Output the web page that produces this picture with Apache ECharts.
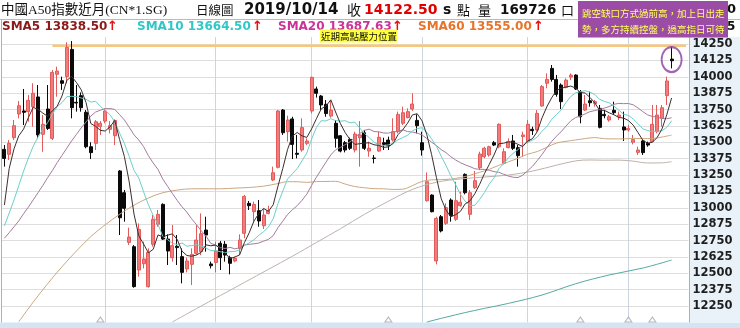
<!DOCTYPE html>
<html><head><meta charset="utf-8">
<script src="https://cdn.jsdelivr.net/npm/echarts@6/dist/echarts.min.js"></script>
<style>html,body{margin:0;padding:0;background:#fff}#c{width:740px;height:328px}</style>
</head><body><div id="c"></div>
<script>
// ---- data ----
const opens = [
13446,13408,13535,13716,13739,13734,13772,13846,13561,13754,
13530,14019,13970,14001,14209,13805,13856,13729,13466,13492,
13619,13662,13599,13550,13281,13115,12736,12703,12525,12573,
12398,12721,12874,13026,12761,12619,12706,12627,12533,12568,
12652,12665,12830,12571,12583,12729,12721,12619,12594,12690,
12805,13034,12970,12978,12863,12957,13212,13309,13746,13581,
13678,13416,13441,13492,13739,13907,13853,13790,13700,13645,
13550,13497,13522,13441,13535,13573,13433,13380,13433,13497,
13517,13517,13581,13645,13688,13754,13667,13497,13054,13097,
12594,12932,12881,13059,12912,13016,13255,12950,13153,13306,
13390,13403,13497,13466,13339,13459,13510,13459,13543,13505,
13599,13594,13777,13950,14064,13980,13937,13919,13998,14013,
13886,13746,13817,13797,13759,13713,13670,13744,13695,13617,
13594,13500,13423,13510,13492,13505,13581,13683,13856,14135];
const closes = [
13377,13492,13627,13779,13729,13820,13874,13556,13637,13606,
14034,14044,13950,14225,13764,13800,13764,13466,13421,13657,
13645,13739,13627,13667,12924,12996,12777,12398,12835,12609,
12660,12912,12950,12761,12670,12711,12696,12507,12594,12644,
12754,12802,12792,12558,12670,12619,12639,12576,12614,12754,
13087,13016,13026,12899,12945,12978,13268,13739,13573,13670,
13484,13408,13612,13510,13996,13874,13785,13719,13746,13530,
13433,13441,13454,13563,13556,13454,13454,13377,13538,13484,
13474,13581,13713,13726,13734,13792,13627,13441,13199,12970,
12919,12823,13001,12940,13054,13042,13115,13115,13207,13410,
13454,13466,13479,13637,13428,13505,13454,13398,13556,13637,
13589,13721,13925,13980,13980,13866,13810,13975,14013,13907,
13695,13792,13802,13810,13614,13703,13695,13726,13708,13594,
13606,13520,13441,13421,13479,13637,13708,13764,13968,14122.5];
const highs = [
13479,13517,13670,13815,13907,13861,13950,13937,13708,13937,
14052,14077,14001,14263,14273,13937,13881,13746,13500,13670,
13662,13759,13662,13675,13288,13136,12848,12716,12881,12741,
12690,12945,12983,13034,12797,12869,12792,12690,12619,12690,
12869,12957,12932,12589,12741,12746,12746,12634,12627,12797,
13098,13052,13047,13059,12996,13016,13314,13746,13754,13703,
13695,13556,13683,13530,14001,13925,13861,13823,13823,13670,
13555,13510,13535,13581,13662,13594,13505,13403,13581,13535,
13543,13683,13734,13772,13759,13874,13713,13581,13270,13102,
12932,12945,13034,13072,13199,13123,13263,13136,13281,13428,
13466,13474,13510,13645,13454,13530,13556,13479,13581,13670,
13619,13746,13937,14026,14090,14014,13950,13988,14026,14019,
13899,13861,13886,13823,13785,13746,13708,13810,13734,13734,
13632,13556,13466,13517,13505,13785,13785,13785,14001,14230];
const lows = [
13314,13365,13517,13683,13632,13657,13619,13530,13428,13594,
13517,13848,13899,13950,13683,13734,13734,13454,13372,13441,
13556,13645,13568,13479,12792,12894,12716,12390,12474,12537,
12390,12703,12856,12754,12563,12589,12563,12423,12507,12410,
12639,12639,12665,12537,12507,12525,12589,12492,12584,12639,
12767,12983,12894,12856,12838,12950,13204,13301,13556,13505,
13372,13377,13428,13479,13721,13841,13746,13695,13688,13459,
13423,13423,13441,13423,13314,13441,13390,13339,13428,13441,
13441,13505,13568,13632,13683,13739,13568,13398,13047,12965,
12568,12812,12869,12894,12899,13008,13102,12907,13143,13288,
13377,13390,13471,13454,13332,13454,13441,13314,13390,13492,
13556,13581,13772,13912,13963,13848,13754,13912,13975,13899,
13645,13739,13772,13772,13606,13683,13657,13708,13670,13510,
13581,13484,13403,13403,13466,13500,13568,13619,13785,14064];

const sma5 = [
13021,13300,13450,13550,13601,13689,13766,13752,13723,13699,
13741,13775,13854,13972,14003,13957,13901,13804,13643,13622,
13591,13586,13618,13667,13520,13391,13198,12952,12786,12723,
12656,12683,12793,12778,12791,12801,12758,12669,12636,12630,
12639,12660,12717,12710,12715,12688,12656,12612,12624,12640,
12734,12809,12899,12956,12995,12973,13023,13166,13301,13446,
13547,13575,13549,13537,13602,13680,13755,13777,13824,13731,
13643,13574,13521,13484,13489,13494,13496,13481,13476,13461,
13465,13491,13558,13596,13646,13709,13718,13664,13559,13406,
13231,13070,12982,12931,12947,12972,13030,13053,13107,13178,
13260,13330,13403,13489,13493,13503,13501,13484,13468,13510,
13527,13580,13686,13770,13839,13894,13912,13922,13929,13914,
13880,13876,13842,13801,13743,13744,13725,13710,13689,13685,
13666,13631,13574,13516,13493,13500,13537,13602,13711,13838.5];
const sma10 = [
12861,12960,13060,13170,13280,13380,13470,13540,13600,13650,
13715,13771,13803,13848,13851,13849,13838,13829,13807,13813,
13774,13743,13711,13655,13571,13491,13392,13285,13227,13122,
13023,12941,12873,12782,12757,12728,12720,12731,12707,12711,
12720,12709,12693,12673,12673,12664,12658,12665,12667,12678,
12711,12733,12756,12790,12818,12853,12916,13033,13129,13220,
13260,13299,13358,13419,13524,13613,13665,13663,13680,13666,
13661,13665,13649,13654,13610,13568,13535,13501,13480,13475,
13480,13494,13519,13536,13554,13587,13605,13611,13577,13526,
13470,13394,13323,13245,13177,13102,13050,13018,13019,13063,
13116,13180,13228,13298,13335,13382,13416,13444,13479,13501,
13515,13540,13585,13619,13675,13711,13746,13804,13850,13877,
13887,13894,13882,13865,13828,13812,13801,13776,13745,13714,
13705,13678,13642,13603,13589,13583,13584,13588,13614,13664.5];
const sma20 = [
12767,12810,12855,12900,12955,13005,13060,13115,13170,13230,
13285,13345,13400,13455,13510,13560,13610,13655,13700,13731,
13745,13757,13757,13751,13711,13670,13615,13557,13517,13467,
13398,13342,13292,13219,13164,13109,13056,13008,12967,12916,
12872,12825,12783,12728,12715,12696,12689,12698,12687,12694,
12716,12721,12725,12731,12745,12759,12787,12849,12898,12949,
12985,13016,13057,13104,13171,13233,13291,13348,13404,13443,
13461,13482,13503,13536,13567,13591,13600,13582,13580,13571,
13570,13579,13584,13595,13582,13578,13570,13556,13529,13501,
13475,13444,13421,13390,13365,13344,13328,13314,13298,13294,
13293,13287,13276,13271,13256,13242,13233,13231,13249,13282,
13316,13360,13407,13459,13505,13546,13581,13624,13664,13689,
13701,13717,13734,13742,13751,13761,13773,13790,13797,13795,
13796,13786,13762,13734,13709,13697,13692,13682,13680,13687.63];
// [day index, value]
const sma60 = [[3,12130],[6,12280],[9,12420],[12,12550],[15,12670],[18,12780],[21,12870],[24,12950],[27,13020],[30,13075],[33,13115],[36,13135],[39,13145],[42,13145],[45,13145],[48,13150],[51,13155],[54,13165],[57,13185],[59,13199],[61,13199],[63,13194],[65,13200],[67,13201],[69,13202],[71,13181],[73,13162],[75,13153],[77,13146],[79,13145],[81,13140],[83,13142],[85,13169],[87,13201],[89,13213],[91,13215],[93,13219],[95,13231],[97,13248],[99,13271],[101,13294],[103,13324],[105,13351],[107,13378],[109,13409],[111,13429],[113,13462],[115,13494],[117,13507],[119,13518],[121,13528],[123,13536],[125,13527],[127,13526],[129,13526],[131,13530],[133,13528],[135,13529],[137,13540],[139,13555]];
const sma120 = [[35,12128],[40,12230],[45,12330],[50,12430],[55,12530],[60,12630],[65,12735],[70,12840],[75,12950],[80,13050],[85,13140],[90,13195],[95,13220],[100,13235],[105,13250],[110,13280],[115,13325],[119,13358],[122,13365],[125,13363],[128,13364],[131,13356],[134,13342],[137,13343],[139,13352]];
const sma240 = [[88,12128],[92,12165],[96,12200],[100,12232],[105,12270],[112,12334],[119,12420],[126,12487],[133,12540],[139,12601]];

const resistanceLevel = 14237;
const resistanceFrom = 10;
const eventDays = [20, 80, 120, 130, 135];
const tickLabels = [12250,12375,12500,12625,12750,12875,13000,13125,13250,13375,13500,13625,13750,13875,14000,14125,14250];

const headerTitle = '中國A50指數近月(CN*1.SG)';
const headerDate = '2019/10/14';
const lastClose = '14122.50';
const lastVolume = '169726';
const smaLabels = [['SMA5','13838.50'],['SMA10','13664.50'],['SMA20','13687.63'],['SMA60','13555.00']];
const noteLines = ['跳空缺口方式過前高，加上日出走','勢，多方持續控盤，過高指日可待'];
const resistanceNote = '近期高點壓力位置';

// ---- trading-day categories (weekdays 2019-04-02 .. 2019-10-14) + blank room ----
const categories = [];
(function(){
  const d = new Date(Date.UTC(2019,3,2));
  while (categories.length < opens.length) {
    const wd = d.getUTCDay();
    if (wd !== 0 && wd !== 6) {
      categories.push(d.getUTCFullYear()+'-'+String(d.getUTCMonth()+1).padStart(2,'0')+'-'+String(d.getUTCDate()).padStart(2,'0'));
    }
    d.setUTCDate(d.getUTCDate()+1);
  }
  for (let k=0;k<3;k++) categories.push('pad'+k);
})();
const monthStarts = [];
for (let i=1;i<opens.length;i++) if (categories[i].slice(5,7)!==categories[i-1].slice(5,7)) monthStarts.push(i);

const candles = opens.map((o,i)=>[o, closes[i], lows[i], highs[i]]);
const last = opens.length-1;

const chart = echarts.init(document.getElementById('c'), null, {renderer:'canvas'});

const T = (x,y,text,font,fill,extra) => Object.assign({type:'text', x, y, silent:true, style:{text, font, fill, textVerticalAlign:'middle', verticalAlign:'middle'}}, extra||{});
const cjk = "'Noto Sans CJK TC'";
const serif = "'Liberation Serif', 'Noto Sans CJK TC'";
const bold = "'DejaVu Sans'";

const smaColors = ['#8B1A1A','#33C6C6','#CC3399','#E8742A'];
const smaX = [2,137,278,418];
const arrowX = [107,252,392,533];

const graphics = [
  {type:'rect', shape:{x:0,y:322.4,width:740,height:6}, style:{fill:'#D4E4F3'}, z:-10, silent:true},
  {type:'rect', shape:{x:690,y:37,width:50,height:286}, style:{fill:'#E9F1F9'}, z:-10, silent:true},
  {type:'line', shape:{x1:0,y1:19.5,x2:740,y2:19.5}, style:{stroke:'#CDAAD8', lineWidth:1}, silent:true},
  {type:'line', shape:{x1:1.5,y1:19.5,x2:1.5,y2:322.4}, style:{stroke:'#C99BD2', lineWidth:1}, silent:true},
  {type:'line', shape:{x1:689.5,y1:19.5,x2:689.5,y2:322.4}, style:{stroke:'#C99BD2', lineWidth:1}, silent:true},
  T(1,10,headerTitle,"13.5px "+serif,'#111'),
  T(196,10,'日線圖',"12.5px "+cjk,'#111'),
  T(244,10,headerDate,"bold 15px "+bold,'#111'),
  T(347,10,'收',"14px "+cjk,'#111'),
  T(364,10,lastClose,"bold 14px "+bold,'#E00000'),
  T(443,10,'s',"bold 14px "+bold,'#111'),
  T(457,10,'點',"13px "+cjk,'#111'),
  T(478,10,'量',"13px "+cjk,'#111'),
  T(500,10,lastVolume,"bold 13.5px "+bold,'#111'),
  T(561,10,'口',"13px "+cjk,'#111'),
  T(727,10,'0',"bold 13px "+bold,'#111'),
  T(727,27,'5',"bold 12px "+bold,'#111')
];
smaLabels.forEach((s,k)=>{
  graphics.push(T(smaX[k],27,s[0]+' '+s[1],"bold 12px "+bold,smaColors[k],{z:1}));
  graphics.push(T(arrowX[k],26.5,'↑',"bold 13px "+bold,'#E81010',{z:1}));
});
graphics.push({type:'rect', shape:{x:320,y:29.5,width:77,height:13}, style:{fill:'#FFFF3C'}, z:5, silent:true});
graphics.push(T(321,36.2,resistanceNote,"9.5px "+cjk,'#111',{z:6}));
graphics.push({type:'rect', shape:{x:578,y:1,width:150,height:36.5}, style:{fill:'#9B4DA6'}, z:5, silent:true});
graphics.push(T(582,13,noteLines[0],"9.5px "+cjk,'#FFFF5A',{z:6}));
graphics.push(T(582,29,noteLines[1],"9.5px "+cjk,'#FFFF5A',{z:6}));

const lineS = (name, data, color, smooth) => ({
  name, type:'line', data, symbol:'none', showSymbol:false, connectNulls:true,
  smooth: smooth ? 0.35 : false, silent:true, z:3,
  lineStyle:{color, width:1}, emphasis:{disabled:true}
});

chart.setOption({
  animation:false,
  backgroundColor:'#ffffff',
  grid:{left:2, top:37.1, width:686.4, height:285.3, containLabel:false},
  xAxis:{type:'category', data:categories, boundaryGap:true,
    axisLine:{show:false}, axisTick:{show:false}, axisLabel:{show:false}, splitLine:{show:false}},
  yAxis:{type:'value', position:'right', min:12125, max:14303, interval:125, scale:true,
    axisLine:{show:false}, axisTick:{show:false},
    axisLabel:{margin:4, color:'#1E1E1E', fontFamily:'DejaVu Sans', fontWeight:'bold', fontSize:11.5,
      formatter:v => tickLabels.indexOf(v) >= 0 ? String(v) : ''},
    splitLine:{show:true, showMaxLine:false, showMinLine:false, lineStyle:{color:'#DEDEDE', width:1}}},
  graphic:graphics,
  series:[
    {name:'K', type:'candlestick', data:candles, barWidth:3.4, z:2, silent:true,
      itemStyle:{color:'#F27C7C', color0:'#0A0A0A', borderColor:'#E25A5A', borderColor0:'#0A0A0A', borderWidth:1},
      markLine:{silent:true, symbol:'none', z:1, animation:false, label:{show:false},
        lineStyle:{color:'#CBD5DF', width:1, type:'solid'}, emphasis:{disabled:true},
        data:monthStarts.map(i=>({xAxis:categories[i]}))}},
    {name:'resistance', type:'line', data:[[resistanceFrom, resistanceLevel],[categories.length-1, resistanceLevel]],
      symbol:'none', silent:true, z:1, lineStyle:{color:'#F7C77E', width:2.6}},
    lineS('SMA240', sma240, '#55A9A2', true),
    lineS('SMA120', sma120, '#BDB2AC', true),
    lineS('SMA60', sma60, '#CBA880', true),
    lineS('SMA20', sma20, '#A57B9F', false),
    lineS('SMA10', sma10, '#6DCFCA', false),
    lineS('SMA5', sma5, '#3C2E2E', false),
    {name:'events', type:'scatter', data:eventDays.map(i=>[i, 12147]), symbol:'triangle', symbolSize:[7,5],
      silent:true, z:4, itemStyle:{color:'#ffffff', borderColor:'#A8A8A8', borderWidth:1}},
    {name:'focus', type:'scatter', data:[[last, (highs[last]+lows[last])/2]], symbol:'circle', symbolSize:[20,25],
      symbolOffset:[0,2], silent:true, z:6, itemStyle:{color:'rgba(0,0,0,0)', borderColor:'#8B3FA3', borderWidth:2}}
  ]
});
</script></body></html>
